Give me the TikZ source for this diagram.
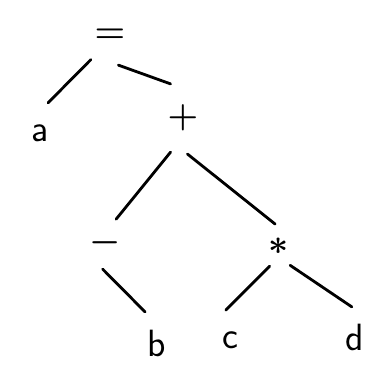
\documentclass[tikz,border=0pt]{standalone}
\usepackage{tikz}

\begin{document}
\begin{tikzpicture}[
    x=0.025cm,y=-0.025cm,
    op/.style={circle,inner sep=0pt,font=\fontsize{32}{36}\selectfont\boldmath},
    leaf/.style={circle,inner sep=0pt,font=\fontsize{27}{30}\selectfont\sffamily},
    br/.style={line width=2pt,line cap=round},
  ]
  \useasboundingbox (0,0) rectangle (382,371);

  % ---------- operators ----------
  \node[op,minimum size=1.5cm]  (eq)    at (110, 36) {$=$};
  \node[op,minimum size=1.8cm]  (plus)  at (183,118) {$+$};
  \node[op,minimum size=1.3cm]  (minus) at (105,243) {$-$};
  \node[op,minimum size=1.1cm,font=\fontsize{54}{58}\selectfont\boldmath]
                                (times) at (279,246) {$\ast$};

  % ---------- operands ----------
  \node[leaf,minimum size=1.55cm] (a) at ( 40,133) {a};
  \node[leaf,minimum size=1.65cm] (b) at (157,343) {b};
  \node[leaf,minimum size=1.5cm]  (c) at (230,340) {c};
  \node[leaf,minimum size=1.5cm]  (d) at (355,337) {d};

  % ---------- branches ----------
  \draw[br] (eq.231)    -- (a.75);
  \draw[br] (eq.286)    -- (plus.110);
  \draw[br] (plus.250)  -- (minus.65);
  \draw[br] (plus.277)  -- (times.100);
  \draw[br] (minus.265) -- (b.111);
  \draw[br] (times.245) -- (c.98);
  \draw[br] (times.300) -- (d.96);
\end{tikzpicture}
\end{document}
